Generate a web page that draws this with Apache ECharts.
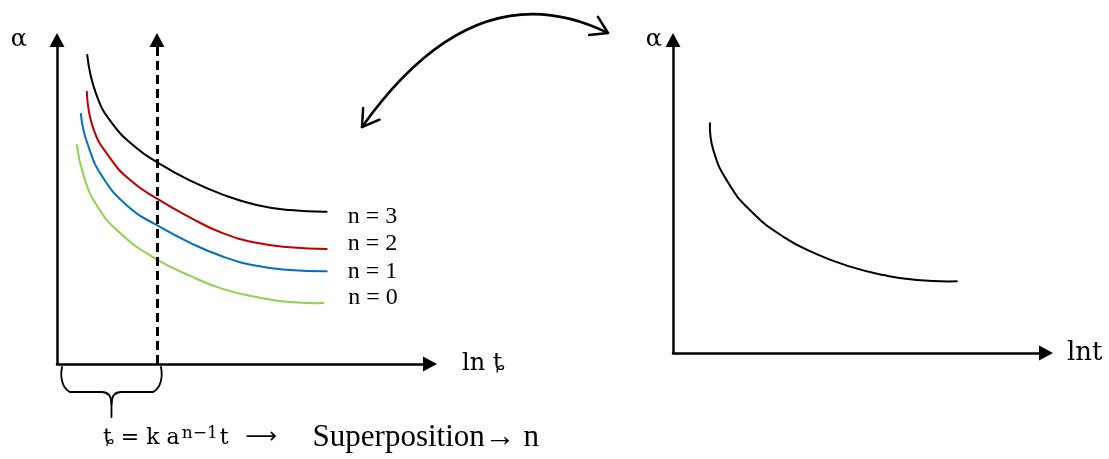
<!DOCTYPE html>
<html>
<head>
<meta charset="utf-8">
<script src="https://cdn.jsdelivr.net/npm/echarts@6/dist/echarts.min.js"></script>
<style>
  html, body { margin: 0; padding: 0; background: #ffffff; }
  #chart { width: 1109px; height: 459px; }
</style>
</head>
<body>
<div id="chart"></div>
<script>
// α against ln t for each reaction order n (left panel), axis units 0–100
const curveN3 = [[8.1, 95.4], [10.6, 83.0], [15.1, 73.8], [21.4, 66.6], [26.7, 62.4], [35.7, 56.6], [44.6, 52.2], [53.5, 49.1], [62.5, 47.5], [72.3, 47.0]];
const curveN2 = [[8.0, 84.0], [9.7, 72.8], [14.2, 63.6], [19.6, 56.8], [26.7, 51.1], [35.7, 45.2], [44.6, 40.3], [53.5, 37.4], [62.5, 36.0], [72.3, 35.5]];
const curveN1 = [[6.4, 77.2], [8.0, 68.6], [12.4, 57.4], [19.6, 48.1], [26.7, 42.9], [35.7, 37.4], [44.6, 33.1], [53.5, 30.3], [62.5, 29.0], [72.3, 28.6]];
const curveN0 = [[5.3, 67.6], [7.1, 58.3], [10.6, 49.1], [16.9, 40.4], [26.3, 32.6], [35.7, 27.2], [44.6, 23.1], [53.5, 20.7], [62.5, 19.1], [71.4, 18.8]];

// Superposed master curve (right panel), axis units 0–100
const masterCurve = [[9.9, 73.4], [10.8, 64.9], [14.7, 54.6], [20.6, 45.7], [29.5, 37.2], [38.5, 31.6], [47.5, 27.6], [56.4, 24.9], [65.4, 23.3], [76.1, 22.9]];

// Reference time position (dashed line) on the left ln t axis
const shiftX = 26.8;

const curveLabels = ['n = 3', 'n = 2', 'n = 1', 'n = 0'];
const curveColors = ['#000000', '#C00000', '#0070C0', '#92D050'];
const curveData = [curveN3, curveN2, curveN1, curveN0];
// label placement beside the curve ends: [dx, dy] in pixels
const labelPlace = [[21, 5], [21, -5], [21, 0], [25, -5]];

const axisNames = { leftX: 'ln ȶ', rightX: 'lnt', y: 'α' };
const formula = { lhs: 'ȶ = k a', sup: 'n−1', t: 't', arrow: '⟶', tail: 'Superposition→ n' };

const MATH_FONT = '"DejaVu Serif", "Liberation Serif", serif';
const TEXT_FONT = '"Liberation Serif", "Times New Roman", serif';
const CURVE_SMOOTH = 0.5;

const chart = echarts.init(document.getElementById('chart'), null, { renderer: 'canvas' });

function makeAxis(gridIndex, extra) {
  return Object.assign({
    gridIndex: gridIndex,
    type: 'value',
    min: 0,
    max: 100,
    axisLine: {
      show: true,
      onZero: false,
      symbol: ['none', 'triangle'],
      symbolSize: [15, 14],
      lineStyle: { color: '#000', width: 2.5 }
    },
    axisTick: { show: false },
    axisLabel: { show: false },
    splitLine: { show: false },
    nameLocation: 'end'
  }, extra);
}

// A smooth curve through the data points, projected with the grid's axes,
// with an optional text label just right of its last point.
function curveSeries(pts, gridIndex, color, label, place) {
  return {
    type: 'custom',
    coordinateSystem: 'cartesian2d',
    xAxisIndex: gridIndex,
    yAxisIndex: gridIndex,
    data: pts,
    encode: { x: 0, y: 1 },
    silent: true,
    z: 3,
    renderItem: function (params, api) {
      if (params.dataIndex !== 0) return null;
      const coords = pts.map(function (p) { return api.coord(p); });
      const children = [{
        type: 'polyline',
        shape: { points: coords, smooth: CURVE_SMOOTH },
        style: { stroke: color, lineWidth: 2, fill: 'none', lineCap: 'round', lineJoin: 'round' }
      }];
      if (label) {
        const end = coords[coords.length - 1];
        children.push({
          type: 'text',
          x: end[0] + place[0],
          y: end[1] + place[1],
          style: {
            text: label, fill: '#000', fontSize: 24, fontFamily: TEXT_FONT,
            align: 'left', verticalAlign: 'middle'
          }
        });
      }
      return { type: 'group', children: children };
    }
  };
}

const series = curveData.map(function (pts, i) {
  return curveSeries(pts, 0, curveColors[i], curveLabels[i], labelPlace[i]);
});

// dashed reference line with arrow head
series.push({
  type: 'line',
  xAxisIndex: 0,
  yAxisIndex: 0,
  data: [],
  markLine: {
    silent: true,
    symbol: ['none', 'triangle'],
    symbolSize: [15, 14],
    label: { show: false },
    lineStyle: { color: '#000', width: 3, type: [9, 5] },
    data: [{ xAxis: shiftX }]
  }
});

series.push(curveSeries(masterCurve, 1, '#000000', null, null));

chart.setOption({
  animation: false,
  backgroundColor: '#ffffff',
  grid: [
    { left: 57, top: 40, width: 373, height: 324 },
    { left: 673, top: 40, width: 373, height: 313 }
  ],
  xAxis: [
    makeAxis(0, {
      name: axisNames.leftX, nameGap: 32,
      nameTextStyle: { fontFamily: MATH_FONT, fontSize: 24, color: '#000', align: 'left', verticalAlign: 'middle' }
    }),
    makeAxis(1, {
      name: axisNames.rightX, nameGap: 21,
      nameTextStyle: { fontFamily: MATH_FONT, fontSize: 26, color: '#000', align: 'left', verticalAlign: 'middle', padding: [32, 0, 0, 0] }
    })
  ],
  yAxis: [
    makeAxis(0, {
      name: axisNames.y, nameGap: 0,
      nameTextStyle: { fontFamily: MATH_FONT, fontSize: 24, color: '#000', align: 'right', verticalAlign: 'middle', padding: [0, 30, 0, 0] }
    }),
    makeAxis(1, {
      name: axisNames.y, nameGap: 0,
      nameTextStyle: { fontFamily: MATH_FONT, fontSize: 24, color: '#000', align: 'right', verticalAlign: 'middle', padding: [0, 11, 0, 0] }
    })
  ],
  title: {
    left: 103,
    top: 421,
    padding: 0,
    text: '{m|' + formula.lhs + '}{s|' + formula.sup + '}{m|' + formula.t + '}{a|' + formula.arrow + '}{t|' + formula.tail + '}',
    textStyle: {
      fontWeight: 'normal',
      rich: {
        m: { fontFamily: MATH_FONT, fontSize: 22, fontWeight: 'normal', color: '#000', lineHeight: 34 },
        s: { fontFamily: MATH_FONT, fontSize: 17, fontWeight: 'normal', color: '#000', lineHeight: 34, padding: [0, 2, 8, 2] },
        a: { fontFamily: '"DejaVu Sans", sans-serif', fontSize: 22, fontWeight: 'normal', color: '#000', lineHeight: 34,
             width: 67, align: 'left', padding: [0, 0, 2, 17] },
        t: { fontFamily: TEXT_FONT, fontSize: 31, fontWeight: 'normal', color: '#000', lineHeight: 34 }
      }
    }
  },
  series: series
});

// Brace under the left axis spanning from the origin to the dashed line
const p0 = chart.convertToPixel({ gridIndex: 0 }, [0, 0]);
const p1 = chart.convertToPixel({ gridIndex: 0 }, [shiftX, 0]);
const L = p0[0] + 5, R = p1[0] + 4, M = (L + R) / 2;
const T = p0[1] + 3, B = p0[1] + 28, TIP = p0[1] + 53;
const braceStyle = { stroke: '#000', lineWidth: 1.8, fill: null, lineCap: 'round' };
function braceHalf(x, s) {
  // s = +1 for the left half, -1 for the right half
  return [
    { type: 'bezierCurve', silent: true, style: braceStyle,
      shape: { x1: x, y1: T, cpx1: x - 2 * s, cpy1: T + 10, cpx2: x, cpy2: B - 4, x2: x + 8 * s, y2: B } },
    { type: 'line', silent: true, style: braceStyle,
      shape: { x1: x + 8 * s, y1: B, x2: M - 10 * s, y2: B } },
    { type: 'bezierCurve', silent: true, style: braceStyle,
      shape: { x1: M - 10 * s, y1: B, cpx1: M - 3 * s, cpy1: B, cpx2: M, cpy2: B + 4, x2: M, y2: B + 12 } }
  ];
}
const braceParts = braceHalf(L, 1).concat(braceHalf(R, -1)).concat([
  { type: 'line', silent: true, style: braceStyle, shape: { x1: M, y1: B + 12, x2: M, y2: TIP } }
]);

// Curved double-headed arrow linking the two panels
const a0 = [362, 127], a1 = [475, -32], a2 = [608, 33];
function arrowHead(tip, from, len, ang) {
  const dx = tip[0] - from[0], dy = tip[1] - from[1];
  const d = Math.sqrt(dx * dx + dy * dy);
  const ux = dx / d, uy = dy / d;
  function rot(a) {
    const c = Math.cos(a), s = Math.sin(a);
    return [tip[0] - len * (ux * c - uy * s), tip[1] - len * (ux * s + uy * c)];
  }
  return [rot(ang), tip, rot(-ang)];
}
const headEnd = arrowHead(a2, a1, 19, 32 * Math.PI / 180);
const headStart = arrowHead(a0, a1, 19, 32 * Math.PI / 180);
const arrowStyle = { stroke: '#000', lineWidth: 2.5, fill: null, lineCap: 'round', lineJoin: 'round' };

chart.setOption({
  graphic: braceParts.concat([
    { type: 'bezierCurve', silent: true, style: arrowStyle,
      shape: { x1: a0[0], y1: a0[1], cpx1: a1[0], cpy1: a1[1], x2: a2[0], y2: a2[1] } },
    { type: 'polyline', silent: true, style: arrowStyle, shape: { points: headEnd } },
    { type: 'polyline', silent: true, style: arrowStyle, shape: { points: headStart } }
  ])
});
</script>
</body>
</html>
